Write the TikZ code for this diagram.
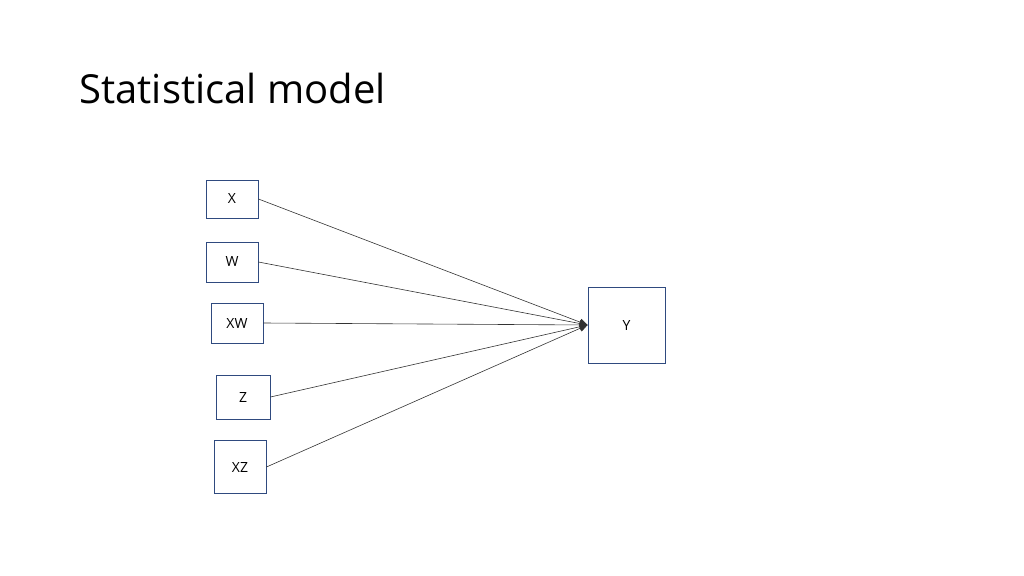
\documentclass[tikz,border=0pt]{standalone}
\usepackage{fontspec}
\setmainfont{Open Sans}
\usetikzlibrary{arrows.meta}
\definecolor{boxblue}{HTML}{2F4A7F}
\begin{document}
\begin{tikzpicture}[x=1pt,y=-1pt,
  box/.style={draw=boxblue,line width=0.9pt,inner sep=0pt,font=\fontsize{14}{16}\selectfont},
  conn/.style={draw=black!80,line width=0.6pt,-{Triangle[length=8pt,width=7pt]}}]
\useasboundingbox (0,0) rectangle (1024,575);
\node[anchor=base west,font=\fontsize{40}{46}\selectfont] (title) at (76,103) {Statistical model};
\node[box,minimum width=52pt,minimum height=38pt] (x) at (232,199) {X};
\node[box,minimum width=52pt,minimum height=40pt] (w) at (232,262) {W};
\node[box,minimum width=52pt,minimum height=40pt] (xw) at (237,323) {XW};
\node[box,minimum width=54pt,minimum height=44pt] (z) at (243,397) {Z};
\node[box,minimum width=52pt,minimum height=53pt] (xz) at (240,467) {XZ};
\node[box,minimum width=77pt,minimum height=76pt] (y) at (626.5,325) {Y};
\draw[conn] (x.east) -- (y.west);
\draw[conn] (w.east) -- (y.west);
\draw[conn] (xw.east) -- (y.west);
\draw[conn] (z.east) -- (y.west);
\draw[conn] (xz.east) -- (y.west);
\end{tikzpicture}
\end{document}
